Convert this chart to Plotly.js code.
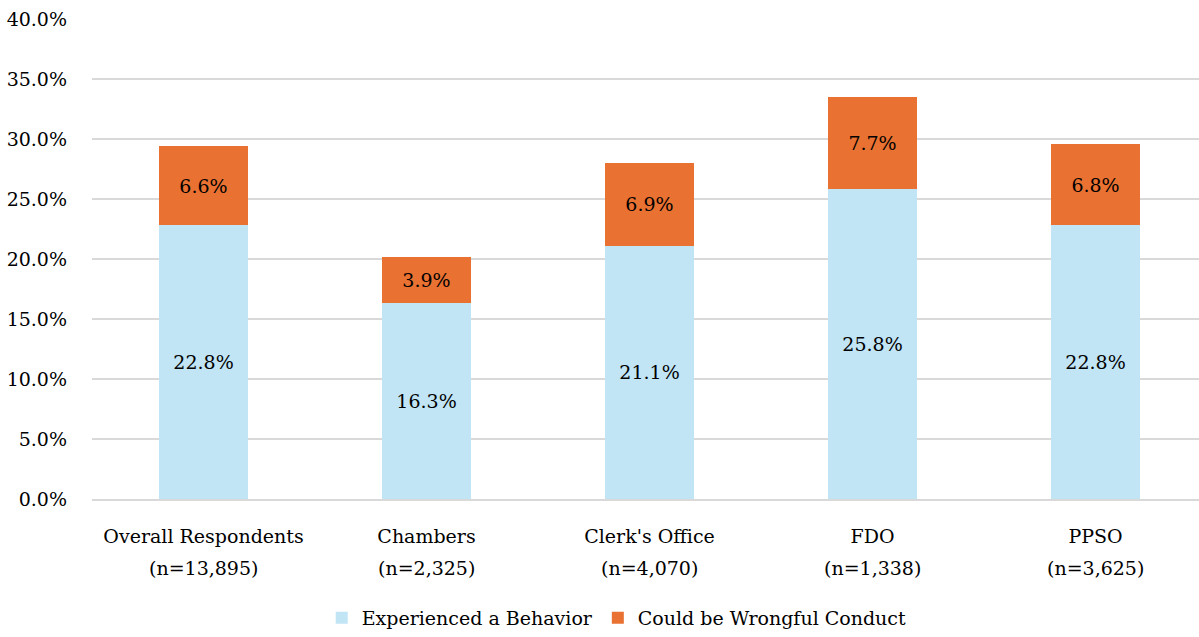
<!DOCTYPE html>
<html>
<head>
<meta charset="utf-8">
<script src="https://cdn.plot.ly/plotly-3.0.1.min.js"></script>
<style>html,body{margin:0;padding:0;background:#fff;}#chart{width:1199px;height:637px;}</style>
</head>
<body>
<div id="chart"></div>
<script>
const categories = ["Overall Respondents", "Chambers", "Clerk's Office", "FDO", "PPSO"];
const sampleSizes = ["(n=13,895)", "(n=2,325)", "(n=4,070)", "(n=1,338)", "(n=3,625)"];
const experienced = [22.8, 16.3, 21.1, 25.8, 22.8];
const wrongful = [6.6, 3.9, 6.9, 7.7, 6.8];
const yTicks = [0, 5, 10, 15, 20, 25, 30, 35, 40];

const FONT = "'DejaVu Serif', 'Liberation Serif', serif";
const FS = 19;

const traces = [
  {
    type: 'bar', name: 'Experienced a Behavior', x: categories, y: experienced,
    marker: {color: '#C1E5F5'},
    text: experienced.map(v => v.toFixed(1) + '%'), textposition: 'inside',
    insidetextanchor: 'middle', textangle: 0,
    textfont: {family: FONT, size: FS, color: '#000'}, hoverinfo: 'none'
  },
  {
    type: 'bar', name: 'Could be Wrongful Conduct', x: categories, y: wrongful,
    marker: {color: '#E97132'},
    text: wrongful.map(v => v.toFixed(1) + '%'), textposition: 'inside',
    insidetextanchor: 'middle', textangle: 0,
    textfont: {family: FONT, size: FS, color: '#000'}, hoverinfo: 'none'
  }
];

const annotations = categories.map((c, i) => ({
  x: c, y: 0, xref: 'x', yref: 'y', text: sampleSizes[i], showarrow: false,
  yanchor: 'middle', yshift: -69, font: {family: FONT, size: FS, color: '#000'}
}));

const layout = {
  width: 1199, height: 637,
  margin: {l: 92, r: 0, t: 19, b: 138},
  barmode: 'stack', bargap: 0.603,
  paper_bgcolor: '#fff', plot_bgcolor: '#fff',
  font: {family: FONT, size: FS, color: '#000'},
  showlegend: true,
  legend: {orientation: 'h', x: 0.474, xanchor: 'center', y: -0.2875, yanchor: 'bottom',
           font: {family: FONT, size: FS, color: '#000'}, traceorder: 'normal'},
  xaxis: {
    type: 'category', range: [-0.5, 4.464], showgrid: false, zeroline: false,
    showline: true, linecolor: '#d9d9d9', linewidth: 1.5, ticks: '',
    ticklabelstandoff: 20, tickfont: {family: FONT, size: FS, color: '#000'}, fixedrange: true
  },
  yaxis: {
    range: [0, 40], tickvals: yTicks, ticktext: yTicks.map(v => v.toFixed(1) + '%'),
    showgrid: true, gridcolor: '#d9d9d9', gridwidth: 1.5, zeroline: false,
    showline: false, ticks: '', ticklabelstandoff: 24,
    tickfont: {family: FONT, size: FS, color: '#000'}, fixedrange: true
  },
  annotations: annotations
};

Plotly.newPlot('chart', traces, layout, {displayModeBar: false, staticPlot: true});
</script>
</body>
</html>
